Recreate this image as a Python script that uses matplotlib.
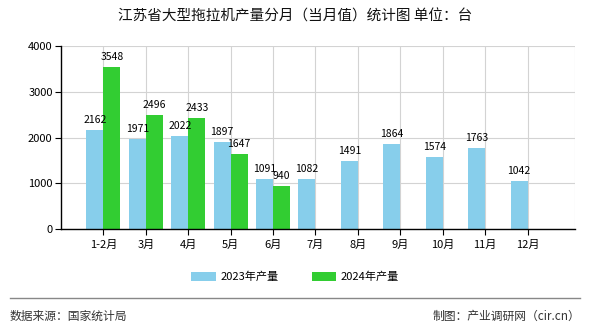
import numpy as np
import matplotlib.pyplot as plt
from matplotlib.lines import Line2D

plt.rcParams['font.family'] = ['Noto Sans CJK SC', 'DejaVu Sans']

months = ['1-2月', '3月', '4月', '5月', '6月', '7月', '8月', '9月', '10月', '11月', '12月']
prod_2023 = [2162, 1971, 2022, 1897, 1091, 1082, 1491, 1864, 1574, 1763, 1042]
prod_2024 = [3548, 2496, 2433, 1647, 940]

fig = plt.figure(figsize=(5.9, 3.3), dpi=100)
ax = fig.add_axes([61 / 590, 1 - 229 / 330, (575 - 61) / 590, (229 - 46) / 330])

x = np.arange(1, len(months) + 1)
w = 0.4
b1 = ax.bar(x[:len(prod_2023)] - w / 2, prod_2023, w, color='#87CEEB', label='2023年产量', zorder=2)
b2 = ax.bar(x[:len(prod_2024)] + w / 2, prod_2024, w, color='#32CD32', label='2024年产量', zorder=2)

# подписи значений над столбцами
for bars, vals in ((b1, prod_2023), (b2, prod_2024)):
    for r, v in zip(bars, vals):
        ax.text(r.get_x() + r.get_width() / 2, v + 110, str(v), ha='center', va='bottom',
                fontsize=7.5, color='black', zorder=3)

ax.set_xlim(0, 12.12)
ax.set_ylim(0, 4000)
ax.set_yticks([0, 1000, 2000, 3000, 4000])
ax.set_xticks(x)
ax.set_xticklabels(months, fontsize=8)
ax.tick_params(axis='y', labelsize=8, length=4, pad=2)
ax.tick_params(axis='x', length=4, pad=4)
ax.grid(True, color='#d3d3d3', linewidth=0.8, zorder=0)
ax.axvline(12.12, color='#d3d3d3', linewidth=0.8)
for s in ['top', 'right']:
    ax.spines[s].set_visible(False)
for s in ['left', 'bottom']:
    ax.spines[s].set_color('black')
    ax.spines[s].set_linewidth(1)

fig.text(0.5, 1 - 17 / 330, '江苏省大型拖拉机产量分月（当月值）统计图 单位：台',
         ha='center', va='center', fontsize=10.5, color='#111111')

fig.legend(handles=[b1, b2], loc='center', bbox_to_anchor=(0.5, 1 - 277 / 330), ncol=2,
           frameon=False, fontsize=8, handlelength=2.2, handleheight=0.9, columnspacing=3,
           handletextpad=0.4)

fig.add_artist(Line2D([10 / 590, 580 / 590], [1 - 298 / 330, 1 - 298 / 330],
                      color='#888888', linewidth=1))
fig.text(10 / 590, 1 - 316 / 330, '数据来源：国家统计局', ha='left', va='center',
         fontsize=8.5, color='#333333')
fig.text(580 / 590, 1 - 316 / 330, '制图：产业调研网（cir.cn）', ha='right', va='center',
         fontsize=8.5, color='#333333')

fig.savefig('out.png', dpi=100)
